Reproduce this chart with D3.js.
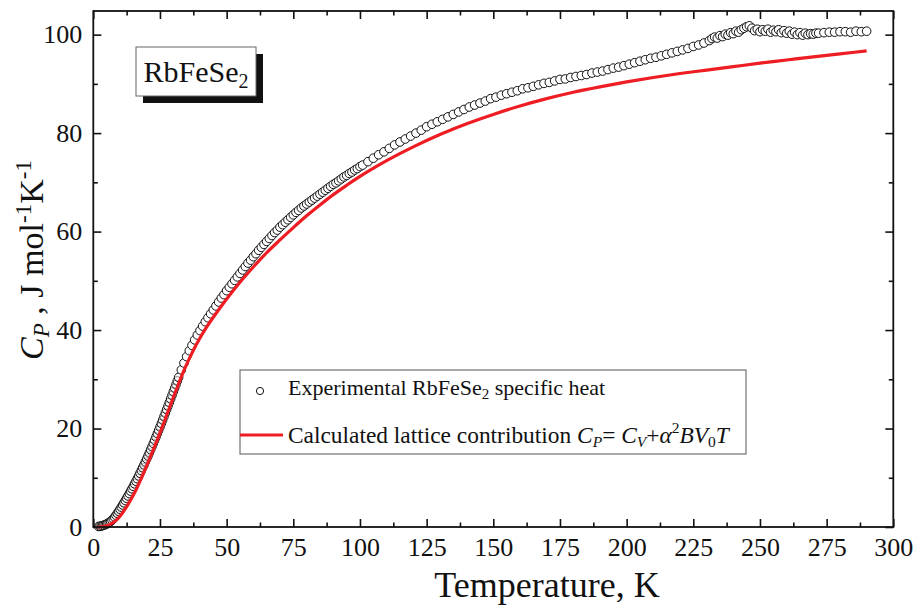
<!DOCTYPE html>
<html>
<head>
<meta charset="utf-8">
<script src="https://cdn.jsdelivr.net/npm/d3@7"></script>
<style>
  body { margin: 0; background: #fff; }
  text { font-family: "Liberation Serif", "Times New Roman", serif; fill: #111; }
</style>
</head>
<body>
<svg id="chart" width="916" height="606"></svg>
<script>
// measured specific heat, J mol-1 K-1
// low-T block is taken every 0.5 K, 2 ... 32 K
const lowT = d3.range(2, 32.01, 0.5)
const lowCp = [0.10, 0.14, 0.20, 0.28, 0.37, 0.48, 0.61, 0.76, 0.94, 1.14, 1.37, 1.66,
  2.00, 2.38, 2.78, 3.18, 3.60, 4.03, 4.47, 4.92, 5.38, 5.84, 6.31, 6.79, 7.28, 7.77,
  8.27, 8.78, 9.30, 9.83, 10.37, 10.92, 11.48, 12.05, 12.63, 13.22, 13.82, 14.43, 15.05,
  15.68, 16.32, 16.97, 17.63, 18.29, 18.96, 19.64, 20.33, 21.02, 21.72, 22.42, 23.13,
  23.84, 24.56, 25.28, 26.00, 26.73, 27.46, 28.19, 28.92, 29.65, 30.38]

// every 1 K, 33 ... 100 K
const midAT = d3.range(33, 100.1, 1)
const midACp = [31.9, 33.3, 34.6, 35.8, 36.9, 38.0, 39.0, 39.9, 40.8, 41.7, 42.5, 43.3,
  44.1, 44.9, 45.7, 46.5, 47.2, 48.0, 48.7, 49.4, 50.1, 50.8, 51.5, 52.2, 52.9, 53.6,
  54.2, 54.9, 55.5, 56.2, 56.8, 57.4, 58.0, 58.6, 59.2, 59.8, 60.3, 60.9, 61.4, 61.9,
  62.4, 62.9, 63.4, 63.9, 64.3, 64.8, 65.2, 65.6, 66.0, 66.4, 66.8, 67.2, 67.6, 68.0,
  68.4, 68.8, 69.2, 69.6, 69.9, 70.3, 70.7, 71.1, 71.4, 71.8, 72.1, 72.5, 72.8, 73.2]

// every 2 K, 101 ... 231 K
const midBT = d3.range(101, 231.1, 2)
const midBCp = [73.5, 74.2, 74.9, 75.6, 76.2, 76.9, 77.6, 78.2, 78.8, 79.4, 80.0, 80.6,
  81.3, 81.8, 82.3, 82.8, 83.3, 83.8, 84.3, 84.8, 85.3, 85.7, 86.1, 86.5, 87.0, 87.3,
  87.7, 88.0, 88.3, 88.6, 89.0, 89.2, 89.5, 89.8, 90.1, 90.3, 90.6, 90.9, 91.0, 91.3,
  91.5, 91.7, 91.9, 92.2, 92.4, 92.6, 92.9, 93.2, 93.4, 93.7, 94.0, 94.3, 94.6, 94.9,
  95.2, 95.4, 95.7, 96.0, 96.3, 96.6, 96.9, 97.2, 97.6, 97.9, 98.3, 98.8]

// anomaly region, every 1 K, 232 ... 271 K
const peakT = d3.range(232, 271.1, 1)
const peakCp = [99.2, 99.5, 99.3, 99.8, 99.6, 100.1, 99.9, 100.4, 100.2, 100.7, 100.5,
  101.0, 101.3, 101.6, 101.8, 101.3, 100.8, 101.1, 100.6, 101.0, 100.7, 101.1, 100.5,
  100.9, 100.6, 101.0, 100.4, 100.8, 100.3, 100.7, 100.1, 100.5, 100.0, 100.4, 99.9,
  100.3, 100.0, 100.2, 100.1, 100.3]

// every 2 K, 272 ... 290 K
const highT = d3.range(272, 290.1, 2)
const highCp = [100.3, 100.4, 100.5, 100.5, 100.6, 100.6, 100.5, 100.7, 100.6, 100.7]

// calculated lattice contribution
const calcT = [1.5, 4, 6, 8, 10, 12, 14, 16, 18, 20, 22, 24, 26, 28, 30, 32, 34, 36, 38,
  40, 42, 45, 50, 55, 60, 65, 70, 75, 80, 85, 90, 95, 100, 110, 120, 130, 140, 150, 160,
  170, 180, 190, 200, 210, 220, 230, 240, 250, 260, 270, 280, 290]
const calcCp = [0, 0.15, 0.45, 1.1, 2.2, 3.7, 5.5, 7.5, 9.9, 12.4, 15.0, 17.7, 20.5,
  23.4, 26.3, 29.1, 31.8, 34.2, 36.4, 38.4, 40.2, 42.6, 46.3, 49.7, 52.8, 55.7, 58.3,
  60.8, 63.2, 65.4, 67.5, 69.4, 71.2, 74.4, 77.2, 79.7, 81.9, 83.8, 85.5, 87.0, 88.3,
  89.4, 90.4, 91.3, 92.1, 92.8, 93.5, 94.2, 94.85, 95.5, 96.1, 96.7]

const xTicks = [0, 25, 50, 75, 100, 125, 150, 175, 200, 225, 250, 275, 300]
const yTicks = [0, 20, 40, 60, 80, 100]

const serif = '"Liberation Serif", "Times New Roman", serif'
const red = "#ee1d23"

const svg = d3.select("#chart")

const pLeft = 93.3, pRight = 893.3, pTop = 11, pBottom = 527

const x = d3.scaleLinear().domain([0, 300]).range([pLeft, pRight])
const y = d3.scaleLinear().domain([0, 104.8]).range([pBottom, pTop])

function styleAxis(g) {
  g.select(".domain").remove()
  g.selectAll(".tick line").attr("stroke", "#111").attr("stroke-width", 1.6)
  g.selectAll(".tick text").style("font-size", "26px").style("font-family", serif).attr("fill", "#111")
}

const xMinor = d3.range(12.5, 300, 25)
const yMinor = d3.range(10, 104, 20)

// bottom
svg.append("g").attr("transform", `translate(0,${pBottom})`)
  .call(d3.axisBottom(x).tickValues(xTicks).tickSize(-8).tickPadding(11).tickFormat(d3.format("d")))
  .call(styleAxis)
svg.append("g").attr("transform", `translate(0,${pBottom})`)
  .call(d3.axisBottom(x).tickValues(xMinor).tickSize(-4.5).tickFormat(""))
  .call(styleAxis)
// top
svg.append("g").attr("transform", `translate(0,${pTop})`)
  .call(d3.axisTop(x).tickValues(xTicks).tickSize(-8).tickFormat(""))
  .call(styleAxis)
svg.append("g").attr("transform", `translate(0,${pTop})`)
  .call(d3.axisTop(x).tickValues(xMinor).tickSize(-4.5).tickFormat(""))
  .call(styleAxis)
// left
svg.append("g").attr("transform", `translate(${pLeft},0)`)
  .call(d3.axisLeft(y).tickValues(yTicks).tickSize(-8).tickPadding(11).tickFormat(d3.format("d")))
  .call(styleAxis)
svg.append("g").attr("transform", `translate(${pLeft},0)`)
  .call(d3.axisLeft(y).tickValues(yMinor).tickSize(-4.5).tickFormat(""))
  .call(styleAxis)
// right
svg.append("g").attr("transform", `translate(${pRight},0)`)
  .call(d3.axisRight(y).tickValues(yTicks).tickSize(-8).tickFormat(""))
  .call(styleAxis)
svg.append("g").attr("transform", `translate(${pRight},0)`)
  .call(d3.axisRight(y).tickValues(yMinor).tickSize(-4.5).tickFormat(""))
  .call(styleAxis)

// experimental points
const lowData = lowT.map((t, i) => [t, lowCp[i]])
const expData = []
midAT.forEach((t, i) => expData.push([t, midACp[i]]))
midBT.forEach((t, i) => expData.push([t, midBCp[i]]))
peakT.forEach((t, i) => expData.push([t, peakCp[i]]))
highT.forEach((t, i) => expData.push([t, highCp[i]]))

// dense low-T points overlap into a dark band
svg.append("g").selectAll("circle")
  .data(lowData)
  .enter().append("circle")
    .attr("cx", d => x(d[0]))
    .attr("cy", d => y(d[1]))
    .attr("r", 4.3)
    .attr("fill", "#fff")
    .attr("fill-opacity", 0.45)
    .attr("stroke", "#111")
    .attr("stroke-width", 1)

svg.append("g").selectAll("circle")
  .data(expData)
  .enter().append("circle")
    .attr("cx", d => x(d[0]))
    .attr("cy", d => y(d[1]))
    .attr("r", 4.3)
    .attr("fill", "#fff")
    .attr("stroke", "#111")
    .attr("stroke-width", 1)

// calculated curve
const line = d3.line()
  .x((d, i) => x(calcT[i]))
  .y(d => y(d))
  .curve(d3.curveMonotoneX)

svg.append("path")
  .datum(calcCp)
  .attr("d", line)
  .attr("fill", "none")
  .attr("stroke", red)
  .attr("stroke-width", 3.2)

// frame
svg.append("rect")
  .attr("x", pLeft).attr("y", pTop)
  .attr("width", pRight - pLeft).attr("height", pBottom - pTop)
  .attr("fill", "none").attr("stroke", "#111").attr("stroke-width", 1.8)

// sample label with shadow
svg.append("rect").attr("x", 143).attr("y", 54).attr("width", 120).attr("height", 49).attr("fill", "#111")
svg.append("rect").attr("x", 136).attr("y", 47).attr("width", 120).attr("height", 49)
  .attr("fill", "#fff").attr("stroke", "#666").attr("stroke-width", 1)
let lab = svg.append("text").attr("x", 196).attr("y", 82).attr("text-anchor", "middle").attr("font-size", 30)
lab.append("tspan").text("RbFeSe")
lab.append("tspan").attr("font-size", 20).attr("dy", 6).text("2")

// legend
svg.append("rect").attr("x", 240).attr("y", 370).attr("width", 506).attr("height", 84)
  .attr("fill", "#fff").attr("stroke", "#555").attr("stroke-width", 1)
svg.append("circle").attr("cx", 260).attr("cy", 391).attr("r", 3.6)
  .attr("fill", "#fff").attr("stroke", "#111").attr("stroke-width", 1)
svg.append("line").attr("x1", 240).attr("x2", 283).attr("y1", 435).attr("y2", 435)
  .attr("stroke", red).attr("stroke-width", 3.2)

let l1 = svg.append("text").attr("x", 288).attr("y", 395).attr("font-size", 22)
l1.append("tspan").text("Experimental RbFeSe")
l1.append("tspan").attr("font-size", 15).attr("dy", 4).text("2")
l1.append("tspan").attr("dy", -4).text(" specific heat")

let l2 = svg.append("text").attr("x", 288).attr("y", 443).attr("font-size", 23.4)
l2.append("tspan").text("Calculated lattice contribution ")
l2.append("tspan").attr("font-style", "italic").text("C")
l2.append("tspan").attr("font-style", "italic").attr("font-size", 15.5).attr("dy", 4).text("P")
l2.append("tspan").attr("dy", -4).text("= ")
l2.append("tspan").attr("font-style", "italic").text("C")
l2.append("tspan").attr("font-style", "italic").attr("font-size", 15.5).attr("dy", 4).text("V")
l2.append("tspan").attr("dy", -4).text("+")
l2.append("tspan").attr("font-style", "italic").text("α")
l2.append("tspan").attr("font-size", 15.5).attr("dy", -10).text("2")
l2.append("tspan").attr("font-style", "italic").attr("dy", 10).text("BV")
l2.append("tspan").attr("font-size", 15.5).attr("dy", 4).text("0")
l2.append("tspan").attr("font-style", "italic").attr("dy", -4).text("T")

// axis titles
svg.append("text").attr("x", 547).attr("y", 597)
  .attr("text-anchor", "middle").attr("font-size", 36).text("Temperature, K")

let yl = svg.append("text").attr("transform", "translate(43,260) rotate(-90)")
  .attr("text-anchor", "middle").attr("font-size", 34)
yl.append("tspan").attr("font-style", "italic").text("C")
yl.append("tspan").attr("font-style", "italic").attr("font-size", 23).attr("dy", 6).text("P")
yl.append("tspan").attr("dy", -6).text(" , J mol")
yl.append("tspan").attr("font-size", 23).attr("dy", -12).text("-1")
yl.append("tspan").attr("dy", 12).text("K")
yl.append("tspan").attr("font-size", 23).attr("dy", -12).text("-1")
</script>
</body>
</html>
